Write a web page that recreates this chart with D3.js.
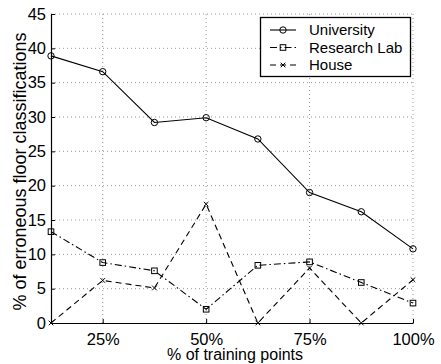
<!DOCTYPE html>
<html>
<head>
<meta charset="utf-8">
<script src="https://cdn.jsdelivr.net/npm/d3@7"></script>
<style>
  html, body { margin: 0; padding: 0; background: #fff; }
  svg { display: block; font-family: "Liberation Sans", Arial, sans-serif; }
</style>
</head>
<body>
<svg id="chart" width="441" height="364"></svg>
<script>
// Training share (%) on the x axis
const trainingShare = [12.5, 25, 37.5, 50, 62.5, 75, 87.5, 100];
// Erroneous floor classifications (%) per environment
const university = [38.9, 36.6, 29.2, 29.9, 26.8, 19.0, 16.2, 10.8];
const researchLab = [13.3, 8.8, 7.6, 2.0, 8.4, 8.9, 5.9, 2.9];
const house = [0, 6.2, 5.1, 17.3, 0, 8.0, 0, 6.3];
const xTicks = [25, 50, 75, 100];
const yTicks = [0, 5, 10, 15, 20, 25, 30, 35, 40, 45];
const seriesNames = ["University", "Research Lab", "House"];

const svg = d3.select("#chart");
const margin = { left: 51, right: 28, top: 14, bottom: 41 };
const W = 441, H = 364;

const x = d3.scaleLinear().domain([12.5, 100]).range([margin.left, W - margin.right]);
const y = d3.scaleLinear().domain([0, 45]).range([H - margin.bottom, margin.top]);

// Dotted grid
const grid = svg.append("g");
grid.selectAll("line.gy").data(yTicks.filter(d => d > 0)).enter().append("line")
  .attr("x1", x(12.5)).attr("x2", x(100))
  .attr("y1", d => y(d)).attr("y2", d => y(d))
  .attr("stroke", "#999").attr("stroke-width", 1).attr("stroke-dasharray", "1,3");
grid.selectAll("line.gx").data(xTicks).enter().append("line")
  .attr("x1", d => x(d)).attr("x2", d => x(d))
  .attr("y1", y(0)).attr("y2", y(45))
  .attr("stroke", "#999").attr("stroke-width", 1).attr("stroke-dasharray", "1,3");

// Axes
const xAxis = d3.axisBottom(x).tickValues(xTicks).tickFormat(d => d + "%").tickSizeInner(-4).tickSizeOuter(0).tickPadding(10);
const yAxis = d3.axisLeft(y).tickValues(yTicks).tickSizeInner(-4).tickSizeOuter(0).tickPadding(5);

const gx = svg.append("g").attr("transform", `translate(0,${y(0)})`).call(xAxis);
const gy = svg.append("g").attr("transform", `translate(${x(12.5)},0)`).call(yAxis);
[gx, gy].forEach(g => {
  g.select(".domain").attr("stroke", "#000").attr("stroke-width", 1.2);
  g.selectAll(".tick line").attr("stroke", "#000");
  g.selectAll(".tick text").attr("fill", "#000").attr("font-size", 16.5).attr("font-family", "Liberation Sans, Arial, sans-serif");
});

// Axis titles
svg.append("text").attr("x", (x(12.5) + x(100)) / 2 + 3).attr("y", 360)
  .attr("text-anchor", "middle").attr("font-size", 16).text("% of training points");
svg.append("text").attr("transform", `translate(26,${(y(0) + y(45)) / 2 + 3}) rotate(-90)`)
  .attr("text-anchor", "middle").attr("font-size", 18).text("% of erroneous floor classifications");

// Series
const series = [
  { name: seriesNames[0], values: university, dash: null, marker: "circle" },
  { name: seriesNames[1], values: researchLab, dash: "7,3,1.5,3", marker: "square" },
  { name: seriesNames[2], values: house, dash: "6,4", marker: "cross" }
];

const line = d3.line().x((d, i) => x(trainingShare[i])).y(d => y(d));

function drawMarker(g, type, cx, cy) {
  if (type === "circle") {
    g.append("circle").attr("cx", cx).attr("cy", cy).attr("r", 3.2)
      .attr("fill", "none").attr("stroke", "#000").attr("stroke-width", 1);
  } else if (type === "square") {
    g.append("rect").attr("x", cx - 2.8).attr("y", cy - 2.8).attr("width", 5.6).attr("height", 5.6)
      .attr("fill", "none").attr("stroke", "#000").attr("stroke-width", 1);
  } else {
    const s = 2.3;
    g.append("path").attr("d", `M${cx - s},${cy - s}L${cx + s},${cy + s}M${cx - s},${cy + s}L${cx + s},${cy - s}`)
      .attr("stroke", "#000").attr("stroke-width", 1);
  }
}

series.forEach(s => {
  const g = svg.append("g");
  g.append("path").datum(s.values).attr("d", line)
    .attr("fill", "none").attr("stroke", "#000").attr("stroke-width", 1.1)
    .attr("stroke-dasharray", s.dash);
  s.values.forEach((v, i) => drawMarker(g, s.marker, x(trainingShare[i]), y(v)));
});

// Legend
const lg = svg.append("g");
lg.append("rect").attr("x", 260.5).attr("y", 17.5).attr("width", 150).attr("height", 59)
  .attr("fill", "#fff").attr("stroke", "#000").attr("stroke-width", 1.3);
const rows = [30, 47.5, 65];
series.forEach((s, i) => {
  const ly = rows[i];
  lg.append("line").attr("x1", 270).attr("x2", 296).attr("y1", ly).attr("y2", ly)
    .attr("stroke", "#000").attr("stroke-width", 1.1).attr("stroke-dasharray", s.dash);
  drawMarker(lg, s.marker, 283, ly);
  lg.append("text").attr("x", 309).attr("y", ly + 5).attr("font-size", 15).text(s.name);
});
</script>
</body>
</html>
